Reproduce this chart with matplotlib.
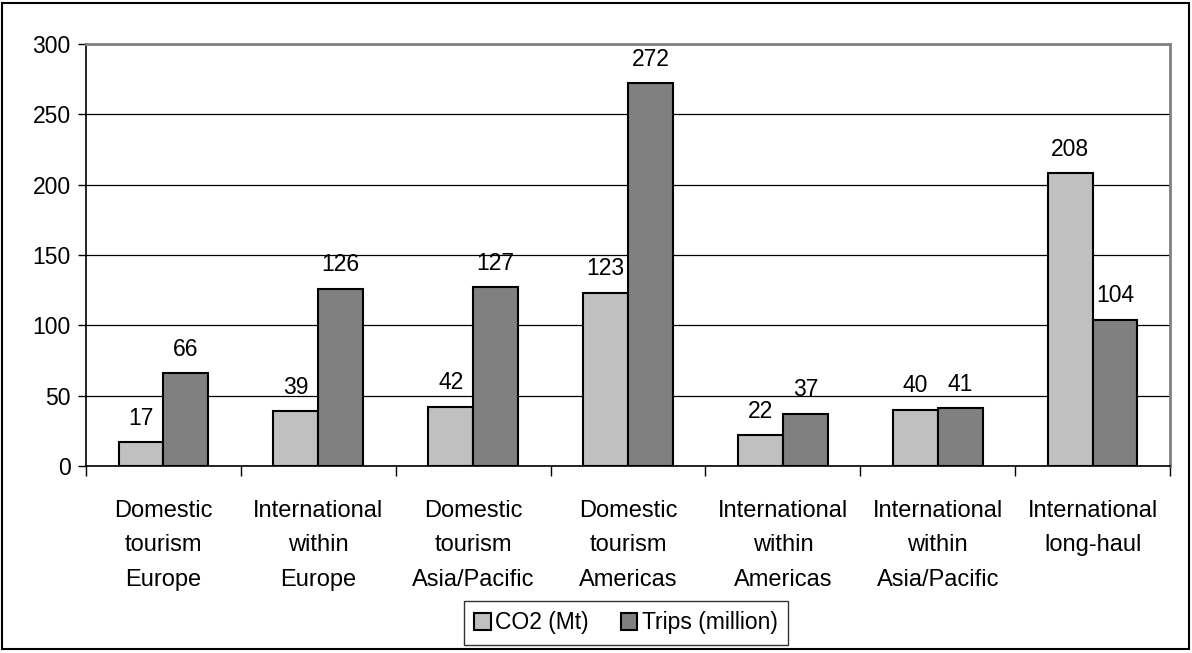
import matplotlib.pyplot as plt
import numpy as np
from matplotlib.patches import Rectangle

plt.rcParams['font.family'] = ['Liberation Sans', 'DejaVu Sans']

categories = ["Domestic\ntourism\nEurope", "International\nwithin\nEurope",
              "Domestic\ntourism\nAsia/Pacific", "Domestic\ntourism\nAmericas",
              "International\nwithin\nAmericas", "International\nwithin\nAsia/Pacific",
              "International\nlong-haul"]
co2 = [17, 39, 42, 123, 22, 40, 208]
trips = [66, 126, 127, 272, 37, 41, 104]

fig = plt.figure(figsize=(11.92, 6.53), dpi=100)
ax = fig.add_axes([86/1192, 1-466/653, (1170-86)/1192, (466-44)/653])

x = np.arange(len(categories))
w = 0.29
b1 = ax.bar(x - w/2, co2, w, color="#c0c0c0", edgecolor="black", linewidth=1.5,
            label="CO2 (Mt)", zorder=3)
b2 = ax.bar(x + w/2, trips, w, color="#808080", edgecolor="black", linewidth=1.5,
            label="Trips (million)", zorder=3)

for bars in (b1, b2):
    for r in bars:
        ax.annotate(f"{int(r.get_height())}", (r.get_x() + r.get_width()/2, r.get_height()),
                    xytext=(0, 9), textcoords="offset points", ha="center", va="bottom",
                    fontsize=16.5)

ax.set_xlim(-0.5, len(categories) - 0.5)
ax.set_ylim(0, 300)
ax.set_yticks(range(0, 301, 50))
ax.yaxis.grid(True, color="black", linewidth=0.9, zorder=0)
ax.set_axisbelow(True)

ax.set_xticks(x)
ax.set_xticklabels(categories, fontsize=17, linespacing=1.72)
ax.set_xticks(np.arange(-0.5, len(categories)), minor=True)
ax.tick_params(axis="x", which="major", length=0, pad=24.5)
ax.tick_params(axis="x", which="minor", length=7, width=1)
ax.tick_params(axis="y", labelsize=16.5, length=6, width=1, pad=5)

ax.spines["top"].set_color("#808080")
ax.spines["right"].set_color("#808080")
ax.spines["top"].set_linewidth(2)
ax.spines["right"].set_linewidth(2)
ax.spines["left"].set_linewidth(1.2)
ax.spines["bottom"].set_linewidth(1.2)

leg = fig.legend(loc="center", bbox_to_anchor=(626/1192, 1-623/653), ncol=2,
                 fontsize=16.5, frameon=True, fancybox=False, edgecolor="black",
                 handlelength=0.72, handleheight=0.72, handletextpad=0.2,
                 columnspacing=1.4, borderpad=0.45)
leg.get_frame().set_linewidth(1)

fig.patches.append(Rectangle((2/1192, 1-649/653), 1187/1192, 646/653, transform=fig.transFigure,
                             fill=False, edgecolor="black", linewidth=1.5))

fig.savefig("out.png", dpi=100)
